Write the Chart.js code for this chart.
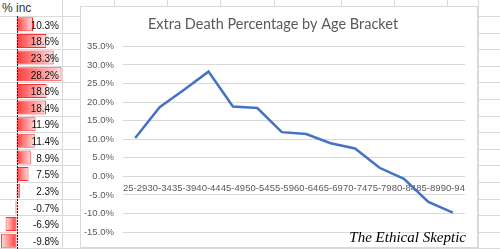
<!DOCTYPE html>
<html>
<head>
<meta charset="utf-8">
<script src="https://cdn.jsdelivr.net/npm/chart.js@4.4.1/dist/chart.umd.min.js"></script>
<style>
body { margin:0; width:500px; height:249px; overflow:hidden; background:#fff; position:relative; font-family:"Liberation Sans", sans-serif; }
.gl { position:absolute; background:#dadada; }
#head { position:absolute; left:2px; top:1px; font-size:12px; font-weight:normal; line-height:14px; color:#333; }
#bars { position:absolute; left:0; top:16px; }
#box { position:absolute; left:80px; top:6px; width:396px; height:240px; border:1px solid #d9d9d9; background:#fff; }
#chart { position:absolute; left:0; top:0; }
#sig { position:absolute; right:11px; top:222px; font-family:"Liberation Serif", serif; font-style:italic; font-size:15px; color:#000; white-space:nowrap; }
</style>
</head>
<body>
<div id="grid"></div>
<div id="head">% inc</div>
<canvas id="bars" width="62" height="233"></canvas>
<div id="box">
  <canvas id="chart" width="396" height="240"></canvas>
  <div id="sig">The Ethical Skeptic</div>
</div>
<script>
const ageBrackets = ['25-29', '30-34', '35-39', '40-44', '45-49', '50-54', '55-59',
  '60-64', '65-69', '70-74', '75-79', '80-84', '85-89', '90-94'];
const pctIncrease = [10.3, 18.6, 23.3, 28.2, 18.8, 18.4, 11.9, 11.4, 8.9, 7.5, 2.3, -0.7, -6.9, -9.8];
const yTickValues = [-15, -10, -5, 0, 5, 10, 15, 20, 25, 30, 35];

// spreadsheet cell lines behind everything
const grid = document.getElementById('grid');
for (let k = 0; k < 15; k++) {
  const d = document.createElement('div');
  d.className = 'gl';
  d.style.cssText = 'left:0;width:500px;height:1px;top:' + Math.round(16 + 16.6 * k) + 'px';
  grid.appendChild(d);
}
[62, 114, 167, 220, 274, 341, 394, 447, 478].forEach(x => {
  const d = document.createElement('div');
  d.className = 'gl';
  d.style.cssText = 'top:0;height:249px;width:1px;left:' + x + 'px';
  grid.appendChild(d);
});

function barFill(ctx) {
  const chart = ctx.chart;
  if (!chart.chartArea) return '#ff6060';
  const xs = chart.scales.x;
  const x0 = xs.getPixelForValue(0);
  const x1 = xs.getPixelForValue(pctIncrease[ctx.dataIndex]);
  if (Math.abs(x1 - x0) < 1) return '#ff6060';
  const g = chart.ctx.createLinearGradient(x0, 0, x1, 0);
  g.addColorStop(0, '#ff3a3a');
  g.addColorStop(1, '#ffe0e0');
  return g;
}

const cellText = {
  id: 'cellText',
  afterDatasetsDraw(chart) {
    const c = chart.ctx;
    const x0 = Math.round(chart.scales.x.getPixelForValue(0)) + 0.5;
    c.save();
    c.strokeStyle = '#222';
    c.lineWidth = 1;
    c.setLineDash([2, 1]);
    c.beginPath();
    c.moveTo(x0, 0);
    c.lineTo(x0, chart.height);
    c.stroke();
    c.setLineDash([]);
    c.fillStyle = '#111';
    c.font = '10px "Liberation Sans"';
    c.textAlign = 'right';
    c.textBaseline = 'middle';
    chart.getDatasetMeta(0).data.forEach((bar, i) => {
      c.fillText(pctIncrease[i].toFixed(1) + '%', 59, bar.y + 1.5);
    });
    c.restore();
  }
};

new Chart(document.getElementById('bars'), {
  type: 'bar',
  data: {
    labels: ageBrackets,
    datasets: [{
      data: pctIncrease,
      backgroundColor: barFill,
      borderColor: '#ff3030',
      borderWidth: 1,
      borderSkipped: false,
      barPercentage: 0.84,
      categoryPercentage: 1
    }]
  },
  options: {
    indexAxis: 'y',
    responsive: false,
    animation: false,
    layout: { padding: 0 },
    plugins: { legend: { display: false }, tooltip: { enabled: false } },
    scales: {
      x: { display: false, min: -10.4, max: 28.5 },
      y: { display: false }
    }
  },
  plugins: [cellText]
});

new Chart(document.getElementById('chart'), {
  type: 'line',
  data: {
    labels: ageBrackets,
    datasets: [{
      data: pctIncrease,
      borderColor: '#4472c4',
      borderWidth: 2.5,
      pointRadius: 0,
      tension: 0,
      fill: false
    }]
  },
  options: {
    responsive: false,
    animation: false,
    layout: { padding: { top: 0, right: 12, bottom: 15, left: 0 } },
    plugins: {
      legend: { display: false },
      tooltip: { enabled: false },
      title: {
        display: true,
        text: 'Extra Death Percentage by Age Bracket',
        color: '#595959',
        font: { family: 'Lato', size: 14.5, weight: 'normal' },
        padding: { top: 9, bottom: 13 }
      }
    },
    scales: {
      x: {
        position: { y: 0 },
        offset: true,
        grid: { display: false, drawTicks: false },
        border: { display: false },
        ticks: {
          autoSkip: false, maxRotation: 0, minRotation: 0,
          color: '#595959', font: { family: 'Liberation Sans', size: 9.5 }, padding: 6
        }
      },
      y: {
        min: -15, max: 35,
        afterBuildTicks: s => { s.ticks = yTickValues.map(v => ({ value: v })); },
        afterFit: s => { s.width = 42; },
        grid: { color: '#d9d9d9', drawTicks: false },
        border: { display: false },
        ticks: {
          callback: v => v.toFixed(1) + '%',
          color: '#595959', font: { family: 'Liberation Sans', size: 9.5 }, padding: 9
        }
      }
    }
  }
});
</script>
</body>
</html>
